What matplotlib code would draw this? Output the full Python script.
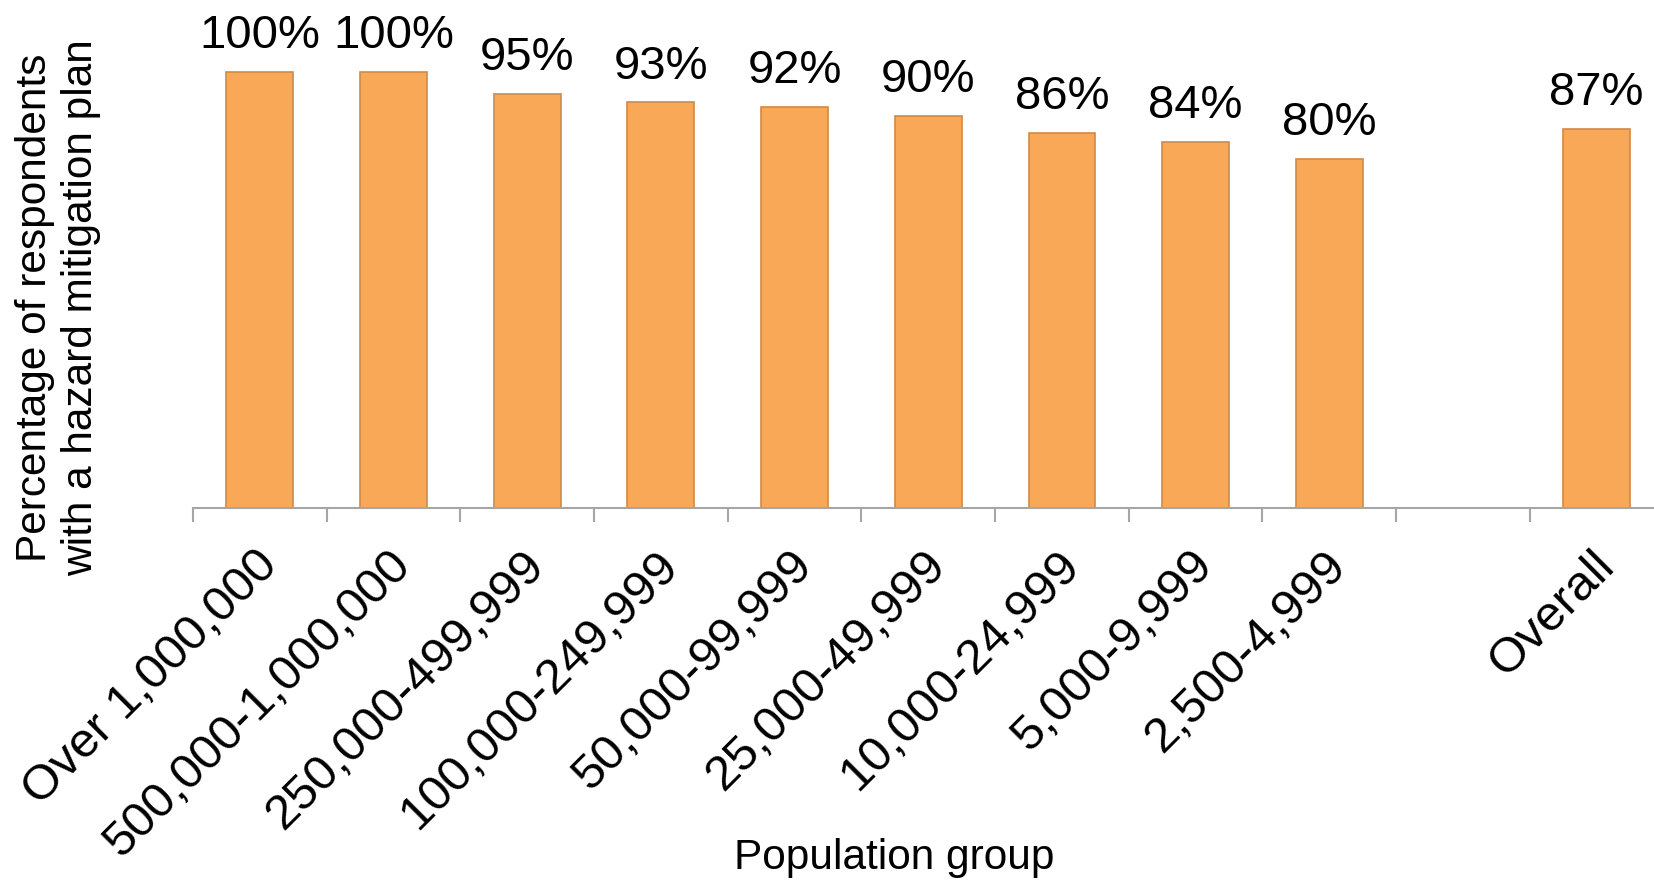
import numpy as np
import matplotlib
matplotlib.use("Agg")
import matplotlib.pyplot as plt
from matplotlib.transforms import ScaledTranslation

plt.rcParams["font.family"] = ["Liberation Sans", "DejaVu Sans"]

# DATA

groups = [
    "Over 1,000,000",
    "500,000-1,000,000",
    "250,000-499,999",
    "100,000-249,999",
    "50,000-99,999",
    "25,000-49,999",
    "10,000-24,999",
    "5,000-9,999",
    "2,500-4,999",
    "",
    "Overall",
]

pct = [100, 100, 95, 93, 92, 90, 86, 84, 80, None, 87]

x_title = "Population group"
y_title = "Percentage of respondents\nwith a hazard mitigation plan"

bar_color = "#F9A857"
edge_color = "#D08A45"
axis_color = "#A6A6A6"

# FIGURE

fig = plt.figure(figsize=(16.54, 8.83), dpi=100)
ax = fig.add_axes([193 / 1654, 375 / 883, 1470.5 / 1654, 508 / 883])

pos = np.arange(len(groups))
vals = [v if v is not None else 0 for v in pct]

bars = ax.bar(pos, vals, width=0.5, color=bar_color,
              edgecolor=edge_color, linewidth=1.2)

labels = [f"{v}%" if v is not None else "" for v in pct]
ax.bar_label(bars, labels=labels, padding=10, fontsize=34)

ax.set_xlim(-0.5, len(groups) - 0.5)
ax.set_ylim(0, 116.5)

for s in ["left", "top", "right"]:
    ax.spines[s].set_visible(False)
ax.spines["bottom"].set_color(axis_color)
ax.spines["bottom"].set_linewidth(1.5)
ax.set_yticks([])

# tick marks between categories, labels at bar centres
ax.set_xticks(np.arange(len(groups) + 1) - 0.5)
ax.set_xticklabels([])
ax.tick_params(axis="x", which="major", length=10, width=1.5,
               color=axis_color, direction="out")

ax.set_xticks(pos, minor=True)
ax.set_xticklabels(groups, minor=True, rotation=45, ha="right",
                   va="top", rotation_mode="anchor", fontsize=35.5)
ax.tick_params(axis="x", which="minor", length=0, pad=25)
for lab in ax.get_xticklabels(minor=True):
    lab.set_transform(lab.get_transform()
                      + ScaledTranslation(-4 / 72, 0, fig.dpi_scale_trans))

fig.text(894 / 1654, 1 - 869 / 883, x_title, fontsize=30.5,
         ha="center", va="baseline")
fig.text(58 / 1654, 1 - 308 / 883, y_title, fontsize=30.5, rotation=90,
         ha="center", va="center", multialignment="center")

fig.savefig("out.png", dpi=100)
